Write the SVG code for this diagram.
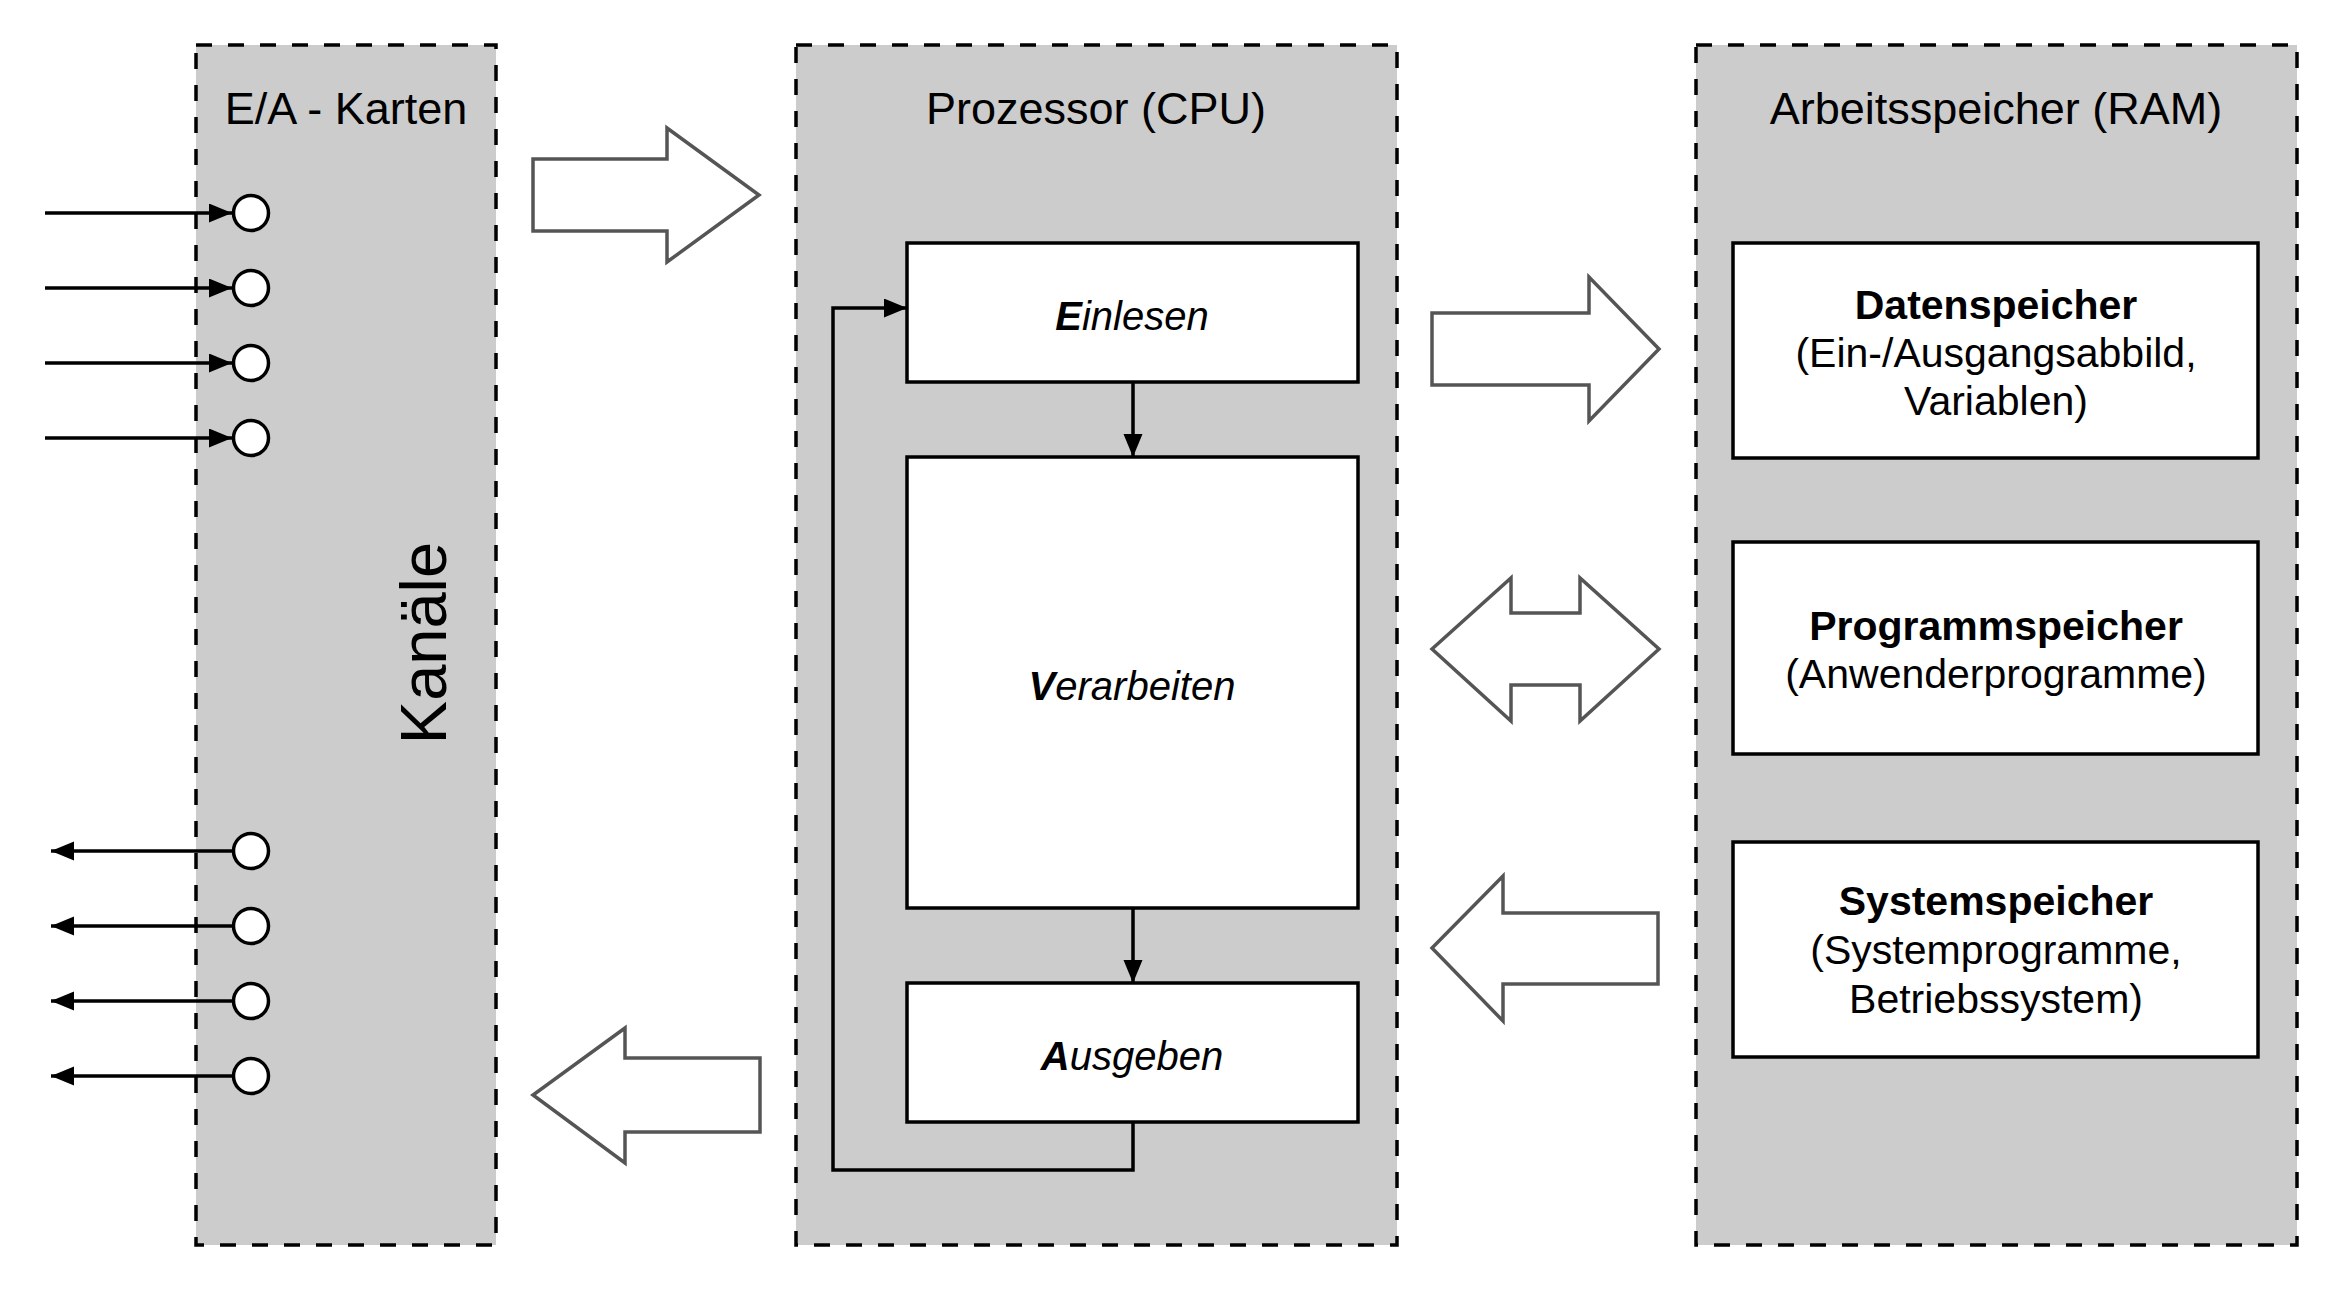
<svg xmlns="http://www.w3.org/2000/svg" width="2341" height="1291" viewBox="0 0 2341 1291">
<defs>
<style>
.panel{fill:#cccccc;stroke:#000;stroke-width:3.5;stroke-dasharray:16 16}
.box{fill:#fff;stroke:#000;stroke-width:3.5}
.big{fill:#fff;stroke:#555;stroke-width:3.5;stroke-linejoin:miter}
.port{fill:#fff;stroke:#000;stroke-width:3.5}
.ln{fill:none;stroke:#000;stroke-width:3.5}
.hdr{font-family:"Liberation Sans",Arial,sans-serif;font-size:45px;fill:#000;text-anchor:middle}
.step{font-family:"Liberation Sans",Arial,sans-serif;font-size:40px;font-style:italic;fill:#000;text-anchor:middle}
.mem{font-family:"Liberation Sans",Arial,sans-serif;font-size:41px;fill:#000;text-anchor:middle}
.b{font-weight:bold}
</style>
<marker id="ah" markerUnits="userSpaceOnUse" markerWidth="26" markerHeight="20" refX="23" refY="9.5" orient="auto">
<path d="M0,0 L23,9.5 L0,19 z" fill="#000"/>
</marker>
</defs>
<rect width="2341" height="1291" fill="#fff"/>

<g id="panel-ea">
<rect class="panel" x="196" y="45" width="300" height="1200"/>
<text class="hdr" x="346" y="124">E/A - Karten</text>
<text transform="translate(446,643) rotate(-90)" font-family="Liberation Sans, Arial, sans-serif" font-size="65" text-anchor="middle" fill="#000">Kanäle</text>
</g>

<g id="panel-cpu">
<rect class="panel" x="796" y="45" width="601" height="1200"/>
<text class="hdr" x="1096" y="124">Prozessor (CPU)</text>
</g>

<g id="panel-ram">
<rect class="panel" x="1696" y="45" width="601" height="1200"/>
<text class="hdr" x="1996" y="124">Arbeitsspeicher (RAM)</text>
</g>

<g id="connectors">
<line class="ln" x1="45" y1="213" x2="232" y2="213" marker-end="url(#ah)"/>
<line class="ln" x1="45" y1="288" x2="232" y2="288" marker-end="url(#ah)"/>
<line class="ln" x1="45" y1="363" x2="232" y2="363" marker-end="url(#ah)"/>
<line class="ln" x1="45" y1="438" x2="232" y2="438" marker-end="url(#ah)"/>
<line class="ln" x1="251" y1="851" x2="51" y2="851" marker-end="url(#ah)"/>
<line class="ln" x1="251" y1="926" x2="51" y2="926" marker-end="url(#ah)"/>
<line class="ln" x1="251" y1="1001" x2="51" y2="1001" marker-end="url(#ah)"/>
<line class="ln" x1="251" y1="1076" x2="51" y2="1076" marker-end="url(#ah)"/>
<line class="ln" x1="1133" y1="382" x2="1133" y2="457" marker-end="url(#ah)"/>
<line class="ln" x1="1133" y1="908" x2="1133" y2="983" marker-end="url(#ah)"/>
<path class="ln" d="M1133,1122 V1170 H833 V308 H907" marker-end="url(#ah)"/>
<polygon class="big" points="533,159 667,159 667,128 759,195 667,262 667,231 533,231"/>
<polygon class="big" points="760,1058 625,1058 625,1028 533,1095 625,1163 625,1132 760,1132"/>
<polygon class="big" points="1432,313 1589,313 1589,277 1659,349 1589,421 1589,385 1432,385"/>
<polygon class="big" points="1432,649 1511,578 1511,613 1580,613 1580,578 1659,649 1580,721 1580,685 1511,685 1511,721"/>
<polygon class="big" points="1658,913 1503,913 1503,876 1432,948 1503,1021 1503,984 1658,984"/>
</g>

<g id="ports-in">
<circle class="port" cx="251" cy="213" r="17.5"/>
<circle class="port" cx="251" cy="288" r="17.5"/>
<circle class="port" cx="251" cy="363" r="17.5"/>
<circle class="port" cx="251" cy="438" r="17.5"/>
</g>
<g id="ports-out">
<circle class="port" cx="251" cy="851" r="17.5"/>
<circle class="port" cx="251" cy="926" r="17.5"/>
<circle class="port" cx="251" cy="1001" r="17.5"/>
<circle class="port" cx="251" cy="1076" r="17.5"/>
</g>

<g id="einlesen">
<rect class="box" x="907" y="243" width="451" height="139"/>
<text class="step" x="1132" y="330"><tspan class="b">E</tspan>inlesen</text>
</g>
<g id="verarbeiten">
<rect class="box" x="907" y="457" width="451" height="451"/>
<text class="step" x="1132" y="700"><tspan class="b">V</tspan>erarbeiten</text>
</g>
<g id="ausgeben">
<rect class="box" x="907" y="983" width="451" height="139"/>
<text class="step" x="1132" y="1070"><tspan class="b">A</tspan>usgeben</text>
</g>

<g id="datenspeicher">
<rect class="box" x="1733" y="243" width="525" height="215"/>
<text class="mem b" x="1996" y="319">Datenspeicher</text>
<text class="mem" x="1996" y="367">(Ein-/Ausgangsabbild,</text>
<text class="mem" x="1996" y="415">Variablen)</text>
</g>
<g id="programmspeicher">
<rect class="box" x="1733" y="542" width="525" height="212"/>
<text class="mem b" x="1996" y="640">Programmspeicher</text>
<text class="mem" x="1996" y="688">(Anwenderprogramme)</text>
</g>
<g id="systemspeicher">
<rect class="box" x="1733" y="842" width="525" height="215"/>
<text class="mem b" x="1996" y="915">Systemspeicher</text>
<text class="mem" x="1996" y="964">(Systemprogramme,</text>
<text class="mem" x="1996" y="1013">Betriebssystem)</text>
</g>
</svg>
